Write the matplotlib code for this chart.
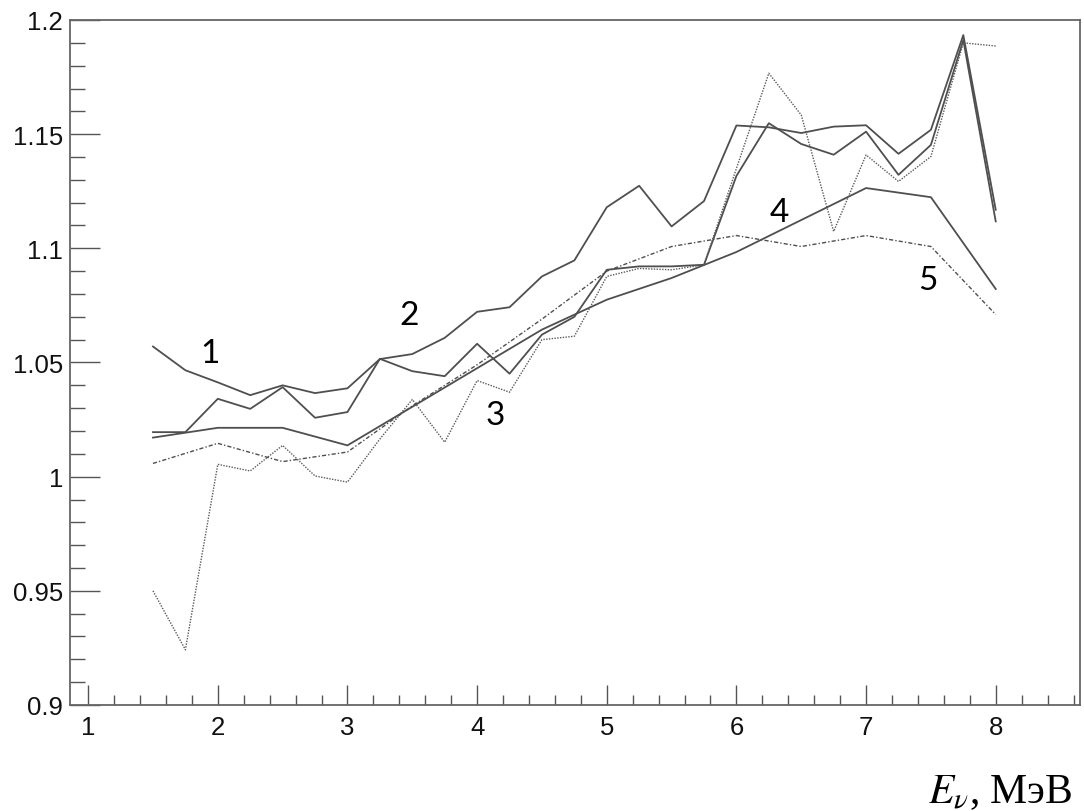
import matplotlib
matplotlib.use('Agg')
import matplotlib.pyplot as plt
from matplotlib.ticker import MultipleLocator

plt.rcParams['mathtext.fontset'] = 'stix'

# energy grid of the fine curves (1, 2, 3)
x_fine = [1.5, 1.75, 2.0, 2.25, 2.5, 2.75, 3.0, 3.25, 3.5, 3.75, 4.0, 4.25, 4.5, 4.75,
          5.0, 5.25, 5.5, 5.75, 6.0, 6.25, 6.5, 6.75, 7.0, 7.25, 7.5, 7.75, 8.0]
# energy grid of the smooth curves (4, 5)
x_coarse = [1.5, 2.0, 2.5, 3.0, 3.5, 4.0, 4.5, 5.0, 5.5, 6.0, 6.5, 7.0, 7.5, 8.0]

curve1 = [1.057, 1.0466, 1.0413, 1.0357, 1.040, 1.0366, 1.0387, 1.0515, 1.0537, 1.0608,
          1.0722, 1.0742, 1.0877, 1.0947, 1.118, 1.1274, 1.1096, 1.1207, 1.1538, 1.1530,
          1.1505, 1.1533, 1.1539, 1.1414, 1.1519, 1.1934, 1.1169]
curve2 = [1.0195, 1.0195, 1.0341, 1.0297, 1.0392, 1.0258, 1.0283, 1.0516, 1.0462, 1.0440,
          1.0582, 1.0451, 1.0622, 1.0700, 1.0906, 1.0921, 1.0921, 1.0928, 1.1317, 1.1548,
          1.1457, 1.1410, 1.1511, 1.1322, 1.1453, 1.1912, 1.1118]
curve3 = [0.950, 0.9242, 1.0054, 1.0025, 1.0137, 1.0003, 0.9976, 1.0165, 1.0338, 1.0151,
          1.0421, 1.0370, 1.0600, 1.0615, 1.0877, 1.0912, 1.0906, 1.0928, 1.1350, 1.1767,
          1.1584, 1.1074, 1.1409, 1.1293, 1.1402, 1.1900, 1.1886]
curve4 = [1.0171, 1.0214, 1.0214, 1.0137, 1.0306, 1.0475, 1.0644, 1.0775, 1.0870, 1.0984,
          1.1124, 1.1264, 1.1224, 1.0822]
curve5 = [1.0058, 1.0146, 1.0066, 1.0108, 1.031, 1.049, 1.069, 1.090, 1.1008, 1.1056,
          1.1008, 1.1056, 1.1008, 1.0710]

labels = ['1', '2', '3', '4', '5']
label_x = [1.94, 3.475, 4.14, 6.335, 7.476]
label_y = [1.054, 1.071, 1.027, 1.116, 1.086]

fig = plt.figure(figsize=(10.84, 8.12), dpi=100)
ax = fig.add_axes([70 / 1084, 106 / 812, 1010 / 1084, 685 / 812])

solid = dict(color='#4f4f4f', lw=1.3)
ax.plot(x_fine, curve1, **solid)
ax.plot(x_fine, curve2, **solid)
ax.plot(x_coarse, curve4, **solid)
ax.plot(x_fine, curve3, color='#5a5a5a', lw=1.0, linestyle=(0, (1, 1)))
ax.plot(x_coarse, curve5, color='#4f4f4f', lw=1.0, linestyle=(0, (3, 1.5, 1, 1.5)))

for t, lx, ly in zip(labels, label_x, label_y):
    ax.text(lx, ly, t, fontsize=24, family='Lato', ha='center', va='center')

ax.set_xlim(0.86, 8.65)
ax.set_ylim(0.9, 1.2)
ax.xaxis.set_major_locator(MultipleLocator(1))
ax.xaxis.set_minor_locator(MultipleLocator(0.2))
ax.yaxis.set_major_locator(MultipleLocator(0.05))
ax.yaxis.set_minor_locator(MultipleLocator(0.01))
ax.yaxis.set_major_formatter(matplotlib.ticker.FuncFormatter(lambda v, p: ('%.2f' % v).rstrip('0').rstrip('.')))

ax.tick_params(axis='both', which='both', direction='in', color='#555555', width=1.0,
               labelsize=18.5, labelcolor='#111111', top=False, right=False)
ax.tick_params(axis='y', which='major', length=21.6, pad=5)
ax.tick_params(axis='y', which='minor', length=10.8)
ax.tick_params(axis='x', which='major', length=14.4, pad=7)
ax.tick_params(axis='x', which='minor', length=7.2)
for lab in ax.get_xticklabels() + ax.get_yticklabels():
    lab.set_family('Liberation Sans')

for sp in ax.spines.values():
    sp.set_color('#666666')
    sp.set_linewidth(1.3)

fig.text(1073 / 1084, 9 / 812, r'$E_\nu$, МэВ', fontsize=30, family='Liberation Serif',
         ha='right', va='baseline')

fig.savefig('out.png', dpi=100)
